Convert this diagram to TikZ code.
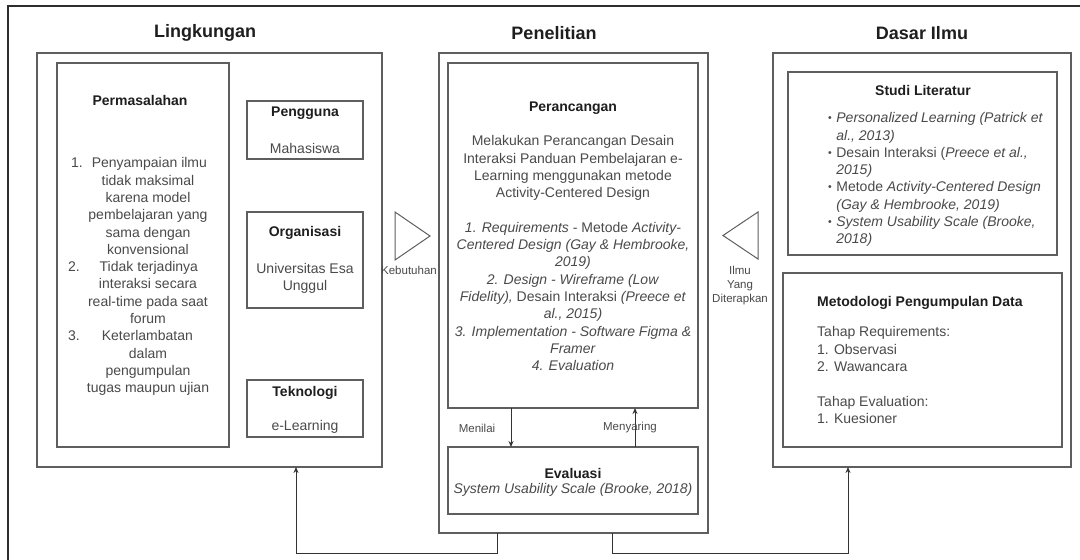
\documentclass[tikz,border=0pt]{standalone}
\usepackage{fontspec}
\setmainfont{Liberation Sans}
\usetikzlibrary{arrows.meta,calc}
\definecolor{linec}{HTML}{5E5E5E}
\definecolor{bodyc}{HTML}{4A4A4A}
\definecolor{headc}{HTML}{1E1E1E}
\definecolor{framec}{HTML}{2E2E2E}
\definecolor{arrc}{HTML}{333333}
\newcommand{\padr}[1]{\rule{#1}{0pt}}
\newcommand{\sbul}{\raisebox{1.2pt}{\fontsize{10.5}{10}\selectfont\textbullet}}
\begin{document}
\begin{tikzpicture}[x=1pt,y=-1pt,
  box/.style={draw=linec, line width=1.2pt, inner sep=0pt, outer sep=0pt, anchor=north west},
  maintitle/.style={font=\fontsize{18}{22}\selectfont\bfseries, text=headc, inner sep=0pt},
  boxtitle/.style={font=\fontsize{14}{17.3}\selectfont\bfseries, text=headc, inner sep=0pt},
  body/.style={font=\fontsize{14}{17.3}\selectfont, text=bodyc, inner sep=0pt},
  small/.style={font=\fontsize{11.5}{14}\selectfont, text=bodyc, inner sep=0pt},
  arr/.style={draw=arrc, line width=1pt, -{Stealth[length=6pt,width=5pt]}},
  tri/.style={draw=linec, line width=1pt, line join=miter},
  frame/.style={draw=framec, line width=1.6pt}
]
\useasboundingbox (0,0) rectangle (1080,560);
\fill[white] (0,0) rectangle (1080,560);

% outer frame (top and left edges)
\draw[frame] (8,560) -- (8,6) -- (1080,6);

% titles
\node[maintitle] (tL) at (205,33) {Lingkungan};
\node[maintitle] (tP) at (554,33) {Penelitian};
\node[maintitle] (tD) at (922,33) {Dasar Ilmu};

% ---------- Lingkungan ----------
\node[box, minimum width=345pt, minimum height=414pt] (lk) at (37,53) {};
\node[box, minimum width=172pt, minimum height=384pt] (pm) at (57,63) {};
\node[boxtitle] (pmT) at (140,100) {Permasalahan};
\node[body, align=center, anchor=north] (pmB) at (148,157.5) {%
1.\hspace{9.1pt}Penyampaian ilmu\padr{18pt}\\
tidak maksimal\\
karena model\\
pembelajaran yang\\
sama dengan\\
konvensional\\
2.\hspace{20pt}Tidak terjadinya\padr{30pt}\\
interaksi secara\\
real-time pada saat\\
forum\\
3.\hspace{22pt}Keterlambatan\padr{35pt}\\
dalam\\
pengumpulan\\
tugas maupun ujian};

\node[box, minimum width=116pt, minimum height=58pt] (pg) at (247,101) {};
\node[boxtitle] (pgT) at (305,113) {Pengguna};
\node[body] (pgB) at (305,148) {Mahasiswa};

\node[box, minimum width=116pt, minimum height=96pt] (org) at (247,212) {};
\node[boxtitle] (orgT) at (305,233) {Organisasi};
\node[body] (orgB1) at (305,268) {Universitas Esa};
\node[body] (orgB2) at (305,287) {Unggul};

\node[box, minimum width=116pt, minimum height=57pt] (tek) at (247,380) {};
\node[boxtitle] (tekT) at (305,393) {Teknologi};
\node[body] (tekB) at (305,427) {e-Learning};

% ---------- Penelitian ----------
\node[box, minimum width=269pt, minimum height=480pt] (pn) at (439,53) {};
\node[box, minimum width=250pt, minimum height=345pt] (prc) at (448,63) {};
\node[boxtitle] (prcT) at (573,108) {Perancangan};
\node[body, align=center, anchor=north] (prcB) at (573,135.5) {%
Melakukan Perancangan Desain\\
Interaksi Panduan Pembelajaran e-\\
Learning menggunakan metode\\
Activity-Centered Design\\[17.3pt]
\textit{1. Requirements} - Metode \textit{Activity-}\\
\textit{Centered Design (Gay \& Hembrooke,}\\
\textit{2019)}\\
\textit{2. Design - Wireframe (Low}\\
\textit{Fidelity),} Desain Interaksi \textit{(Preece et}\\
\textit{al., 2015)}\\
\textit{3. Implementation - Software Figma \&}\\
\textit{Framer}\\
\textit{4. Evaluation}};

\node[box, minimum width=250pt, minimum height=67pt] (ev) at (448,447) {};
\node[boxtitle] (evT) at (573,473) {Evaluasi};
\node[body] (evB) at (573,490) {\textit{System Usability Scale (Brooke, 2018)}};

\coordinate (xa) at (511,0);
\coordinate (xb) at (635,0);
\draw[arr] (prc.south -| xa) -- (ev.north -| xa);
\draw[arr] (ev.north -| xb) -- (prc.south -| xb);
\node[small] (lMen) at (477,428) {Menilai};
\node[small] (lMny) at (630,428) {Menyaring};

% ---------- Dasar Ilmu ----------
\node[box, minimum width=298pt, minimum height=414pt] (di) at (773,53) {};
\node[box, minimum width=269pt, minimum height=183pt] (sl) at (788,72) {};
\node[boxtitle] (slT) at (923,90) {Studi Literatur};
\node[body, anchor=north west] (slB) at (828,110.4) {%
\begin{tabular}{@{}c@{\hspace{4.5pt}}l@{}}
\sbul & \textit{Personalized Learning (Patrick et}\\
 & \textit{al., 2013)}\\
\sbul & Desain Interaksi (\textit{Preece et al.,}\\
 & \textit{2015)}\\
\sbul & Metode \textit{Activity-Centered Design}\\
 & \textit{(Gay \& Hembrooke, 2019)}\\
\sbul & \textit{System Usability Scale (Brooke,}\\
 & \textit{2018)}
\end{tabular}};

\node[box, minimum width=279pt, minimum height=174pt] (mt) at (783,273) {};
\node[boxtitle, anchor=west] (mtT) at (817,303) {Metodologi Pengumpulan Data};
\node[body, align=left, anchor=north west] (mtB) at (817,326.5) {%
Tahap Requirements:\\
1. Observasi\\
2. Wawancara\\[17.3pt]
Tahap Evaluation:\\
1. Kuesioner};

% ---------- triangles ----------
\draw[tri] (395,212) -- (395,260) -- (430,236) -- cycle;
\node[small] (lKeb) at (409,270) {Kebutuhan};
\draw[tri] (758,212) -- (758,259) -- (723,235.5) -- cycle;
\node[small, align=center] (lIlmu) at (740,286) {Ilmu\\Yang\\Diterapkan};

% ---------- bottom connectors ----------
\coordinate (b1) at (497,0);
\coordinate (b2) at (296,0);
\coordinate (b3) at (612,0);
\coordinate (b4) at (848,0);
\coordinate (yb) at (0,553);
\draw[arr] (pn.south -| b1) -- (b1 |- yb) -- (b2 |- yb) -- (lk.south -| b2);
\draw[arr] (pn.south -| b3) -- (b3 |- yb) -- (b4 |- yb) -- (di.south -| b4);
\end{tikzpicture}
\end{document}
